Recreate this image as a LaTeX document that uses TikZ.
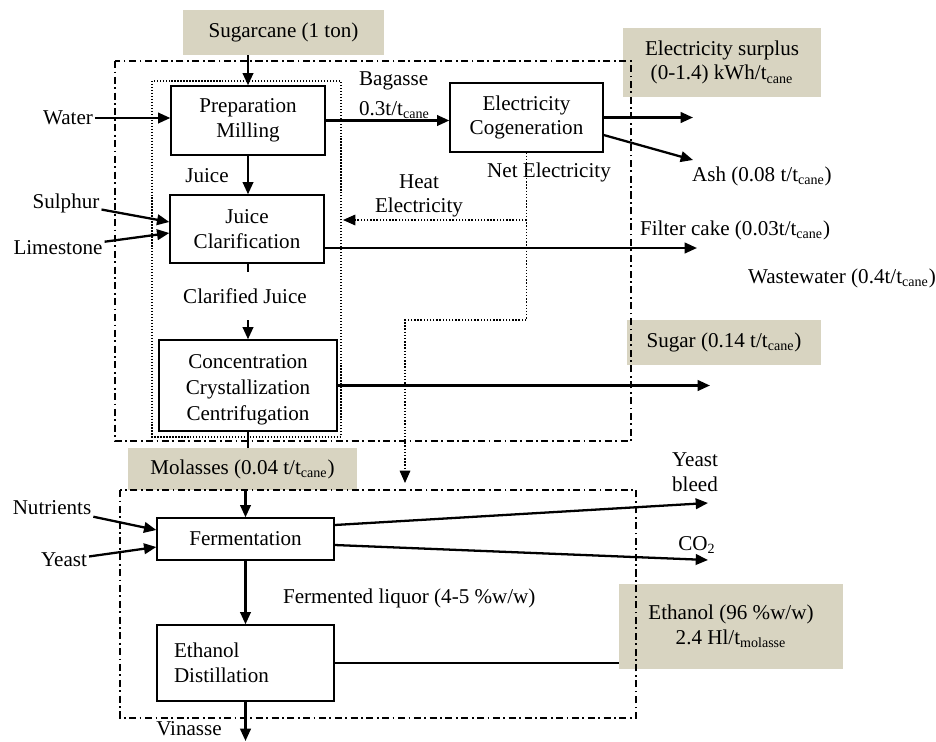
\documentclass[tikz,border=0pt]{standalone}
\usepackage{fontspec}
\setmainfont{Liberation Serif}
\usetikzlibrary{arrows.meta, calc}
\definecolor{boxtan}{RGB}{216,212,193}

\begin{document}
\begin{tikzpicture}[x=0.02cm, y=-0.02cm,
        every node/.style={font=\fontsize{12}{14}\selectfont, inner sep=1pt, align=center},
        proc/.style={draw, line width=0.8pt, fill=white},
        prod/.style={fill=boxtan},
        flow/.style={line width=1.3pt, -{Triangle[length=7pt, width=6pt]}},
        dotflow/.style={densely dotted, line width=0.8pt, -{Triangle[length=7pt, width=6pt]}},
        frame/.style={line width=0.6pt, dash pattern=on 4pt off 2pt on 1pt off 2pt}]
            \useasboundingbox (0,0) rectangle (936,741);
            \node[prod, minimum width=4.02cm, minimum height=0.9cm] (cane) at (283.5,32.5) {Sugarcane (1 ton)};
            \node[proc, minimum width=3.08cm, minimum height=1.38cm] (prep) at (248,120.5) {Preparation\\Milling};
            \node[proc, minimum width=3.06cm, minimum height=1.38cm] (cogen) at (526.5,117.5) {Electricity\\Cogeneration};
            \node[prod, minimum width=3.96cm, minimum height=1.38cm] (surplus) at (722,62.5) {Electricity surplus\\(0-1.4) kWh/t\textsubscript{cane}};
            \node[proc, minimum width=3.08cm, minimum height=1.36cm] (clar) at (247,229) {Juice\\Clarification};
            \node[proc, minimum width=3.56cm, minimum height=1.82cm] (conc) at (248,385.5) {};
            \node[font=\fontsize{12}{14.8}\selectfont] (conctext) at (248,390) {Concentration\\Crystallization\\Centrifugation};
            \node[prod, minimum width=3.88cm, minimum height=0.9cm] (sugar) at (724,342) {Sugar (0.14 t/t\textsubscript{cane})};
            \node[prod, minimum width=4.58cm, minimum height=0.84cm] (molasses) at (242.5,469) {Molasses (0.04 t/t\textsubscript{cane})};
            \node[proc, minimum width=3.54cm, minimum height=0.84cm] (ferm) at (245.5,539) {Fermentation};
            \node[proc, minimum height=1.52cm, text width=2.86cm, inner xsep=0.34cm, align=left] (dist) at (245.5,663) {Ethanol\\Distillation};
            \node[prod, minimum width=4.48cm, minimum height=1.7cm] (ethanol) at (731,626.5) {Ethanol (96 \%w/w)\\2.4 Hl/t\textsubscript{molasse}};
            \node[anchor=east] (water) at (95,118) {Water};
            \node[anchor=west, align=left] (bagasse) at (357,95.5) {Bagasse\\[3pt]0.3t/t\textsubscript{cane}};
            \node (netel) at (549,172) {Net Electricity};
            \node (heat) at (419,196) {Heat\\Electricity};
            \node (juice) at (207,176) {Juice};
            \node (sulphur) at (66,203) {Sulphur};
            \node (lime) at (58,248) {Limestone};
            \node[anchor=west] (ash) at (690,176) {Ash (0.08 t/t\textsubscript{cane})};
            \node[anchor=west] (filter) at (638,230) {Filter cake (0.03t/t\textsubscript{cane})};
            \node[anchor=west] (waste) at (746,278) {Wastewater (0.4t/t\textsubscript{cane})};
            \node (nutr) at (52,508) {Nutrients};
            \node (yeast) at (64,560) {Yeast};
            \node (bleed) at (695,472) {Yeast\\bleed};
            \node (co2) at (697,545) {CO\textsubscript{2}};
            \node[anchor=west] (liquor) at (281,598) {Fermented liquor (4-5 \%w/w)};
            \node (vinasse) at (189,729) {Vinasse};
            \coordinate (elout) at (693,117.5);
            \coordinate (ashend) at (693,160);
            \coordinate (netturn) at (526.5,320);
            \coordinate (netend) at (405,483);
            \coordinate (heatstart) at (526.5,220);
            \coordinate (heatend) at (343,220);
            \coordinate (filterend) at (697,248);
            \coordinate (sugarend) at (710,385.5);
            \coordinate (bleedend) at (708,503);
            \coordinate (co2end) at (708,560);
            \coordinate (vinend) at (245.5,741);
            \draw[flow] (prep.north |- cane.south) -- (prep.north);
            \draw[flow] (water) -- (water.east -| prep.west);
            \draw[flow] (prep.east) -- (prep.east -| cogen.west);
            \draw[flow] (cogen.east) -- (elout);
            \draw[flow] ($(cogen.east)+(0,17.5)$) -- (ashend);
            \draw[dotflow] (cogen.south) -- (netturn) -| (netend);
            \draw[dotflow] (heatstart) -- (heatend);
            \draw[flow] (prep.south) -- (prep.south |- clar.north);
            \draw[flow] (sulphur) -- ($(clar.west)+(0,-7)$);
            \draw[flow] (lime) -- ($(clar.west)+(0,4)$);
            \draw[flow] ($(clar.east)+(0,19)$) -- (filterend);
            \draw[flow] (conc.north |- clar.south) -- (conc.north);
            \node[fill=white, minimum height=0.96cm] (clarjuice) at (245,296) {Clarified Juice};
            \draw[flow] (conc.east) -- (conc.east -| sugarend);
            \draw[line width=1.3pt] (conc.south) -- (conc.south |- molasses.north);
            \draw[flow] (ferm.north |- molasses.south) -- (ferm.north);
            \draw[flow] (nutr) -- ($(ferm.west)+(0,-9)$);
            \draw[flow] (yeast) -- ($(ferm.west)+(0,8)$);
            \draw[flow] ($(ferm.east)+(0,-14)$) -- (bleedend);
            \draw[flow] ($(ferm.east)+(0,6)$) -- (co2end);
            \draw[flow] (ferm.south) -- (dist.north);
            \draw[line width=1.3pt] (dist.east) -- (dist.east -| ethanol.west);
            \draw[flow] (dist.south) -- (vinend);
            \draw[frame] (115,61) rectangle (631,441);
            \draw[densely dotted, line width=0.7pt] (152,81) rectangle (341,437);
            \draw[frame] (120,490) rectangle (636,718);
        \end{tikzpicture}
\end{document}
